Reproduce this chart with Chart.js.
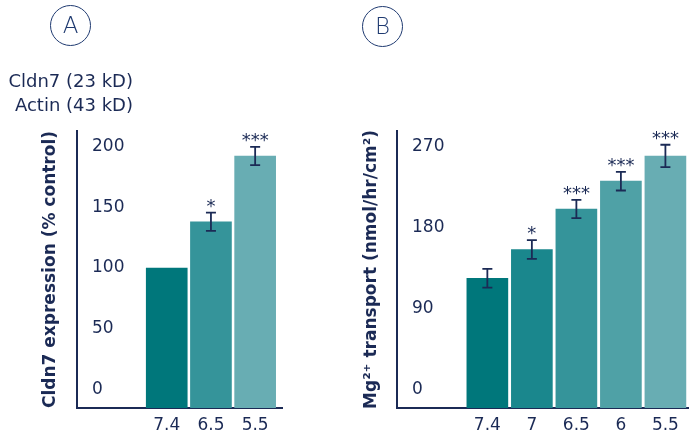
<!DOCTYPE html>
<html lang="en">
<head>
  <meta charset="UTF-8">
  <title>Cldn7 expression and Mg2+ transport</title>
  <script src="https://cdn.jsdelivr.net/npm/chart.js"></script>
  <style>
    body { margin: 0; background: #fff; }
    #wrap { position: relative; width: 689px; height: 435px; overflow: hidden; font-family: "DejaVu Sans", sans-serif; color: #1b2a55; }
    .panel { position: absolute; top: 0; height: 435px; }
    .badge { position: absolute; width: 39px; height: 39px; border: 1.5px solid #1f3a70; border-radius: 50%;
             font-size: 23px; font-weight: 300; line-height: 39px; text-align: center; color: #1f3a70; }
    .blot { position: absolute; font-size: 18px; text-align: right; white-space: nowrap; }
  </style>
</head>
<body>
  <div id="wrap">
    <div class="panel" style="left:0;width:283px"><canvas id="chartA"></canvas></div>
    <div class="panel" style="left:345px;width:344px"><canvas id="chartB"></canvas></div>
    <div class="badge" style="left:50px;top:5px">A</div>
    <div class="badge" style="left:362px;top:6px">B</div>
    <div class="blot" style="left:4px;top:70px;width:129px">Cldn7 (23 kD)</div>
    <div class="blot" style="left:4px;top:94px;width:129px">Actin (43 kD)</div>
  </div>
  <script>
    // panel A: Cldn7 expression
    const phA = ['7.4', '6.5', '5.5'];
    const cldn7 = [100, 138, 192];
    const cldn7Err = [0, 7.5, 7.5];
    const cldn7Sig = ['', '*', '***'];
    const ticksA = [0, 50, 100, 150, 200];
    const colorsA = ['#00777b', '#35949a', '#68adb3'];

    // panel B: Mg2+ transport
    const phB = ['7.4', '7', '6.5', '6', '5.5'];
    const mgTransport = [124, 156, 201, 232, 260];
    const mgErr = [10.4, 10.4, 10.2, 10.4, 12.5];
    const mgSig = ['', '*', '***', '***', '***'];
    const ticksB = [0, 90, 180, 270];
    const colorsB = ['#00777b', '#1a878d', '#35949a', '#4fa1a6', '#68adb3'];

    const navy = '#1b2a55';
    const firstSlot = 2; // bars start two slots right of the y axis

    // error bars and significance stars
    const errorBars = {
      id: 'errorBars',
      afterDatasetsDraw(chart, args, opts) {
        const ctx = chart.ctx;
        const meta = chart.getDatasetMeta(0);
        const y = chart.scales.y;
        ctx.save();
        ctx.strokeStyle = navy;
        ctx.fillStyle = navy;
        ctx.lineWidth = 1.8;
        meta.data.forEach((bar, i) => {
          const v = chart.data.datasets[0].data[i].y;
          const e = opts.err[i];
          let top = bar.y;
          if (e > 0) {
            top = y.getPixelForValue(v + e);
            const bot = y.getPixelForValue(v - e);
            ctx.beginPath();
            ctx.moveTo(bar.x, top); ctx.lineTo(bar.x, bot);
            ctx.moveTo(bar.x - 5, top); ctx.lineTo(bar.x + 5, top);
            ctx.moveTo(bar.x - 5, bot); ctx.lineTo(bar.x + 5, bot);
            ctx.stroke();
          }
          if (opts.sig[i]) {
            ctx.font = '18px "DejaVu Sans"';
            ctx.textAlign = 'center';
            ctx.textBaseline = 'alphabetic';
            ctx.fillText(opts.sig[i], bar.x, top - 1);
          }
        });
        ctx.restore();
      }
    };

    function makeChart(id, cats, values, colors, yTicks, yMin, yMax, xMax, title, err, sig, padLeft, yWidth) {
      return new Chart(document.getElementById(id), {
        type: 'bar',
        data: {
          datasets: [{
            data: values.map((v, i) => ({ x: firstSlot + i, y: v })),
            backgroundColor: colors,
            barThickness: 41,
            base: yMin
          }]
        },
        options: {
          responsive: true,
          maintainAspectRatio: false,
          animation: false,
          layout: { padding: { left: padLeft, right: 0, top: 131, bottom: 0 } },
          plugins: {
            legend: { display: false },
            tooltip: { enabled: false },
            errorBars: { err: err, sig: sig }
          },
          scales: {
            x: {
              type: 'linear',
              offset: false,
              min: -0.03,
              max: xMax,
              grid: { display: false, drawTicks: false },
              border: { color: navy, width: 2 },
              afterBuildTicks: s => { s.ticks = cats.map((c, i) => ({ value: firstSlot + i })); },
              afterFit: s => { s.height = 27; },
              ticks: {
                padding: 7,
                color: navy,
                font: { family: 'DejaVu Sans', size: 17 },
                callback: v => cats[Math.round(v) - firstSlot]
              }
            },
            y: {
              min: yMin,
              max: yMax,
              grid: { display: false, drawTicks: false },
              border: { color: navy, width: 2 },
              afterBuildTicks: s => { s.ticks = yTicks.map(v => ({ value: v })); },
              afterFit: s => { s.width = yWidth; },
              ticks: {
                mirror: true,
                padding: 15,
                color: navy,
                font: { family: 'DejaVu Sans', size: 17 }
              },
              title: {
                display: true,
                text: title,
                color: navy,
                font: { family: 'DejaVu Sans', size: 17, weight: 'bold' },
                padding: { top: 4, bottom: 4 }
              }
            }
          }
        },
        plugins: [errorBars]
      });
    }

    // panel A plot spans x 77..283 of the page
    makeChart('chartA', phA, cldn7, colorsA, ticksA, -15, 212.6, 4.63,
      'Cldn7 expression (% control)', cldn7Err, cldn7Sig, 36, 41);

    makeChart('chartB', phB, mgTransport, colorsB, ticksB, -20.4, 287.8, 6.53,
      'Mg\u00b2\u207a transport (nmol/hr/cm\u00b2)', mgErr, mgSig, 12, 40);
  </script>
</body>
</html>
